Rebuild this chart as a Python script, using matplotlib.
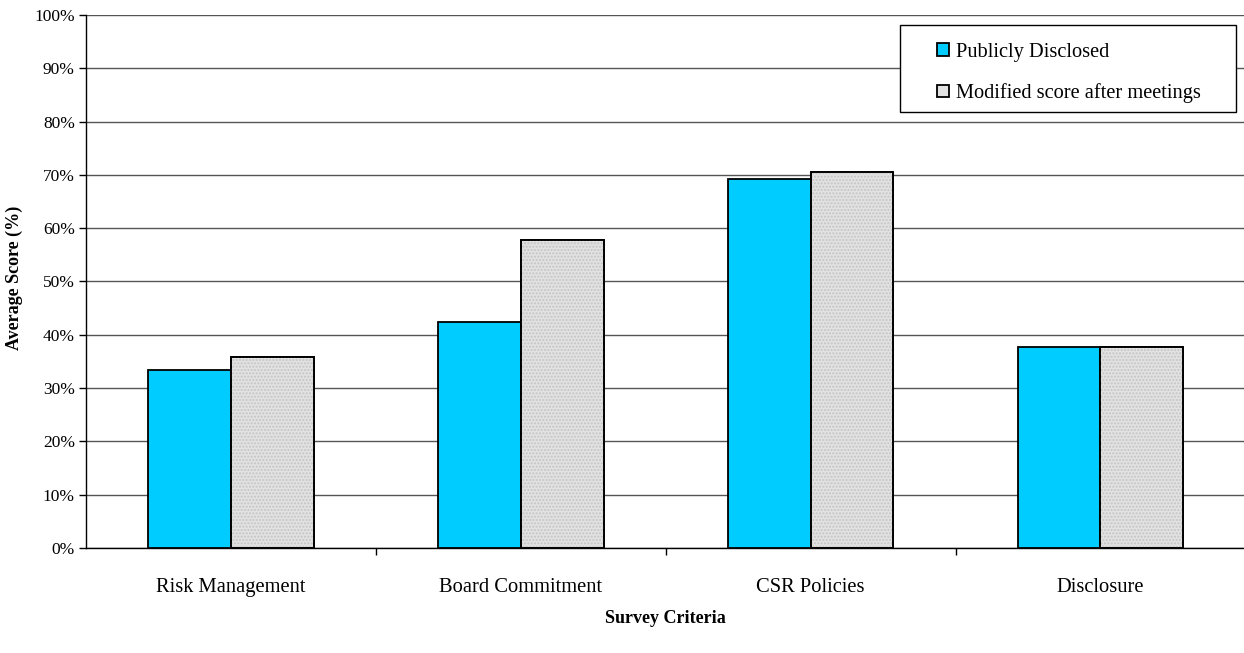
import matplotlib
matplotlib.use('Agg')
import numpy as np
from matplotlib import pyplot as plt
from matplotlib.patches import Rectangle
from matplotlib.ticker import PercentFormatter, FixedLocator

plt.rcParams['font.family'] = ['Liberation Serif', 'DejaVu Serif']

# 调查项目与两组平均得分 (%)
categories = ['Risk Management', 'Board Commitment', 'CSR Policies', 'Disclosure']
publicly_disclosed = [33.4, 42.3, 69.2, 37.7]
modified_score = [35.9, 57.7, 70.5, 37.7]
series_names = ['Publicly Disclosed', 'Modified score after meetings']

fig = plt.figure(figsize=(12.44, 6.53), dpi=100)
ax = fig.add_axes([0.0691, 0.161, 0.932, 0.816])

x = np.arange(len(categories))
w = 0.286

# 蓝色柱
ax.bar(x - w / 2, publicly_disclosed, w, color='#00ccff', edgecolor='black',
       linewidth=1.3, zorder=3, label=series_names[0])
# 灰色点纹柱
ax.bar(x + w / 2, modified_score, w, color='#e2e2e2', edgecolor='black',
       linewidth=1.3, zorder=3, label=series_names[1])
ax.bar(x + w / 2, modified_score, w, facecolor='none', edgecolor='#c4c4c4',
       hatch='.....', linewidth=0, zorder=3.5)
ax.bar(x + w / 2, modified_score, w, facecolor='none', edgecolor='black',
       linewidth=1.3, zorder=4)

ax.set_ylim(0, 100)
ax.set_xlim(-0.5, len(categories) - 0.5)
ax.yaxis.set_major_locator(FixedLocator(np.arange(0, 101, 10)))
ax.yaxis.set_major_formatter(PercentFormatter(decimals=0))
ax.grid(axis='y', color='#555555', linewidth=1.0, zorder=0)

ax.set_xticks(x)
ax.set_xticklabels(categories, fontsize=14.8)
ax.xaxis.set_minor_locator(FixedLocator(np.arange(0.5, len(categories) - 1, 1)))
ax.tick_params(axis='x', which='major', length=0, pad=22)
ax.tick_params(axis='x', which='minor', length=5, width=1)
ax.tick_params(axis='y', length=5, width=1, labelsize=12.5, pad=3)

for side in ['top', 'right']:
    ax.spines[side].set_visible(False)
ax.spines['left'].set_linewidth(1.0)
ax.spines['bottom'].set_linewidth(1.0)

ax.set_xlabel('Survey Criteria', fontsize=13, fontweight='bold')
ax.xaxis.set_label_coords(0.5, -0.116)
ax.set_ylabel('Average Score (%)', fontsize=13, fontweight='bold')
ax.yaxis.set_label_coords(-0.054, 0.5075)

# 图例外框单独画，左右留白比上下宽
frame = Rectangle((0.7023, 0.818), 0.2899, 0.163, transform=ax.transAxes,
                  facecolor='white', edgecolor='black', linewidth=1.0, zorder=9)
ax.add_patch(frame)
leg = ax.legend(loc='center left', bbox_to_anchor=(0.7343, 0.8915), fontsize=14.7,
                frameon=False, handlelength=0.55, handleheight=0.55,
                handletextpad=0.35, labelspacing=1.05, borderpad=0,
                borderaxespad=0)
leg.set_zorder(10)

plt.savefig('out.png', dpi=100)
